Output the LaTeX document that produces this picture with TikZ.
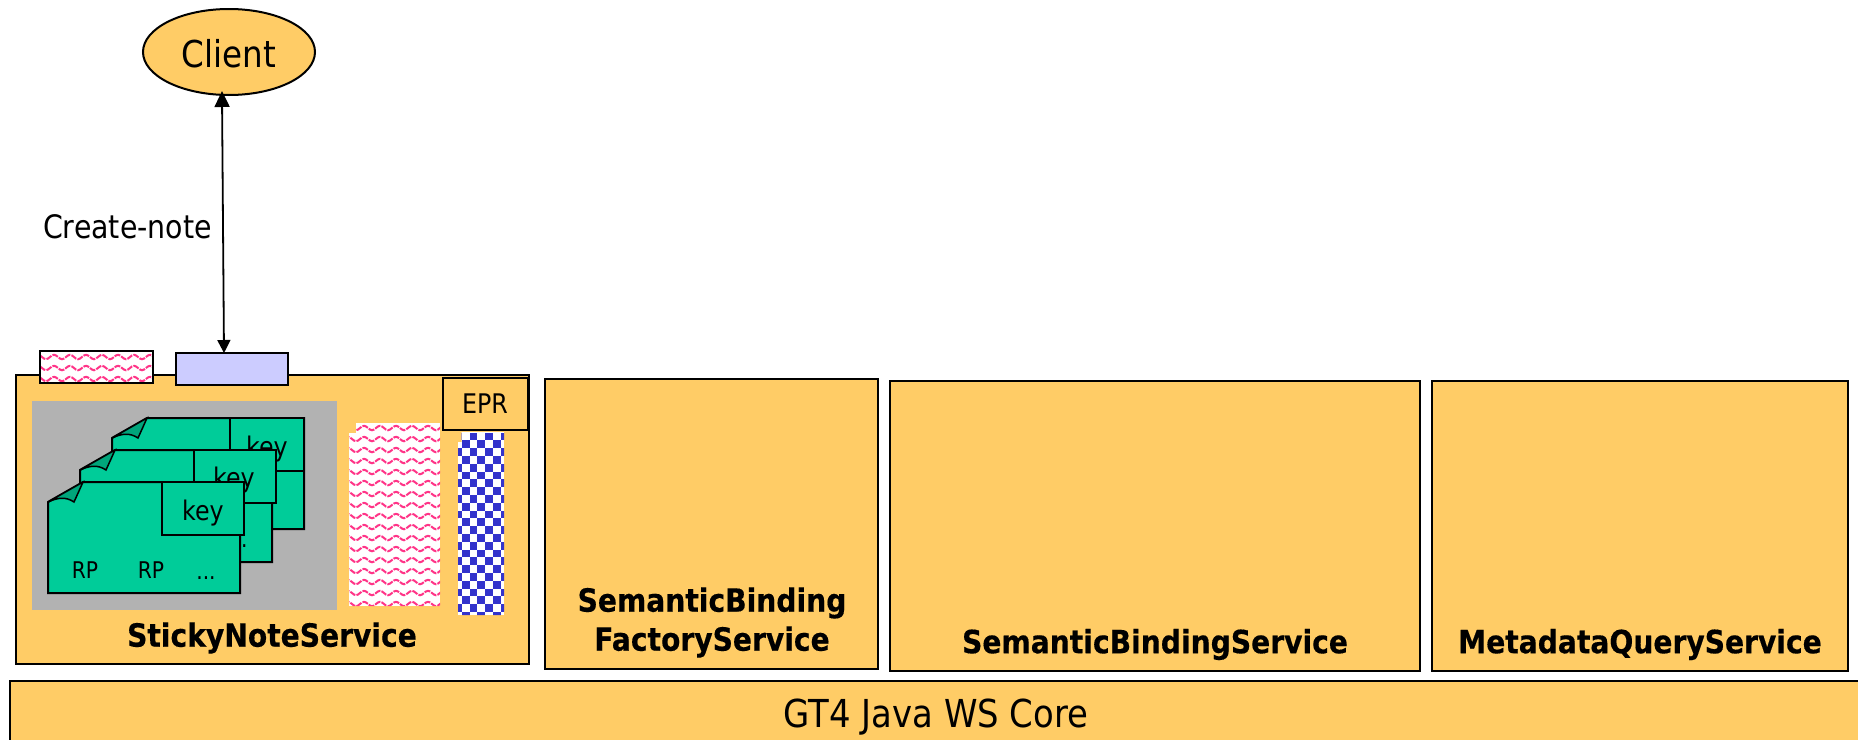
\documentclass[tikz,border=0pt]{standalone}
\usepackage{fontspec}
\setmainfont[FakeStretch=0.88,BoldFeatures={FakeBold=0.4}]{DejaVu Sans}
\usetikzlibrary{arrows.meta,shapes.geometric}
\definecolor{boxfill}{RGB}{255,204,102}
\definecolor{notefill}{RGB}{0,204,153}
\definecolor{foldfill}{RGB}{0,165,123}
\definecolor{greyfill}{RGB}{178,178,178}
\definecolor{lavfill}{RGB}{204,204,255}
\definecolor{wavepink}{RGB}{255,51,135}
\definecolor{checkblue}{RGB}{51,51,204}
\newcommand{\fs}[1]{\fontsize{#1}{#1}\selectfont}
\tikzset{
  x=1pt,y=-1pt,
  ln/.style={draw=black,line width=2pt},
  box/.style={ln,fill=boxfill,rectangle,inner sep=0pt,outer sep=0pt},
  txt/.style={inner sep=0pt,outer sep=0pt,text=black},
  btxt/.style={txt,font=\fs{32}\bfseries},
  keytxt/.style={txt,font=\fs{27}},
  rptxt/.style={txt,font=\fs{23}},
  notebody/.style={ln,fill=notefill,line join=miter},
  foldpart/.style={draw=black,line width=1.5pt,fill=foldfill},
  keybox/.style={ln,fill=notefill,rectangle,inner sep=0pt,outer sep=0pt},
  wave/.style={draw=wavepink,line width=2pt,dash pattern=on 6pt off 1.2pt},
}
\newcommand{\stickynote}[4]{% left top right bottom
  \draw[notebody] (#1,#2+20) -- (#1+35,#2) -- (#3,#2) -- (#3,#4) -- (#1,#4) -- cycle;
  \draw[foldpart] (#1,#2+20) -- (#1+35,#2) .. controls (#1+31,#2+9) .. (#1+26,#2+20) .. controls (#1+17,#2+14) and (#1+9,#2+16) .. cycle;
}
\begin{document}
\begin{tikzpicture}
\useasboundingbox (0,0) rectangle (1858,739);
\fill[white] (0,0) rectangle (1858,739);

% base layer
\node[box,minimum width=1880pt,minimum height=80pt] (core) at (950,721) {};
\node[txt,font=\fs{38.5}] (coretxt) at (936,717) {GT4 Java WS Core};

% service boxes
\node[box,minimum width=512.5pt,minimum height=289pt] (sticky) at (272.25,519) {};
\node[box,minimum width=333pt,minimum height=290pt] (factory) at (711.5,524) {};
\node[box,minimum width=530pt,minimum height=290pt] (semantic) at (1155,525.5) {};
\node[box,minimum width=416pt,minimum height=290pt] (metadata) at (1640,525.5) {};

\node[btxt] (stickytxt) at (272,638) {StickyNoteService};
\node[btxt,align=center] (factorytxt) at (712,622.5) {SemanticBinding\\[7pt]FactoryService};
\node[btxt] (semantictxt) at (1155,644.5) {SemanticBindingService};
\node[btxt] (metadatatxt) at (1640,644.5) {MetadataQueryService};

% small port boxes
\begin{scope}
  \clip (40,351) rectangle (152.5,383);
  \fill[white] (40,351) rectangle (152.5,383);
  \foreach \yy in {357,368,379}{%
    \draw[wave] (34,\yy) foreach \k in {0,...,8}{ sin ++(4,-2.2) cos ++(4,2.2) sin ++(4,2.2) cos ++(4,-2.2) };
  }
\end{scope}
\node[ln,rectangle,inner sep=0pt,outer sep=0pt,minimum width=112.5pt,minimum height=32pt] (pinkport) at (96.25,367) {};
\node[ln,fill=lavfill,rectangle,inner sep=0pt,outer sep=0pt,minimum width=112.5pt,minimum height=32pt] (lavport) at (232,369) {};

% EPR
\node[box,minimum width=85.5pt,minimum height=52pt] (epr) at (485.25,403.5) {};
\node[txt,font=\fs{27}] (eprtxt) at (485,403.5) {EPR};

% grey panel
\node[fill=greyfill,rectangle,inner sep=0pt,outer sep=0pt,minimum width=305pt,minimum height=209pt] (panel) at (184.5,505) {};

% pink resource column
\begin{scope}
  \clip (356,423) -- (440,423) -- (440,606) -- (349,606) -- (349,433) -- (356,433) -- cycle;
  \fill[white] (349,423) rectangle (440,606);
  \foreach \yy in {428,439,...,606}{%
    \draw[wave] (344,\yy) foreach \k in {0,...,6}{ sin ++(4,-2.2) cos ++(4,2.2) sin ++(4,2.2) cos ++(4,-2.2) };
  }
\end{scope}

% blue checker column
\begin{scope}
  \clip (461.5,432) -- (504,432) -- (504,615) -- (458,615) -- (458,442) -- (461.5,442) -- cycle;
  \fill[white] (458,432) rectangle (504,615);
  \foreach \r in {0,...,23}{%
    \foreach \q in {0,...,6}{%
      \pgfmathtruncatemacro{\oddeven}{mod(\r+\q,2)}%
      \ifnum\oddeven=0
        \fill[checkblue] (454+\q*7.8,432.5+\r*7.8) rectangle ++(7.8,7.8);
      \fi
    }%
  }
\end{scope}

% back sheet
\stickynote{112}{418}{304}{529}
\node[keybox,minimum width=74pt,minimum height=53pt] (keyc) at (267,444.5) {};
\node[keytxt] (keyctxt) at (267,449) {key};

% middle sheet
\stickynote{80}{450}{272}{562}
\node[rptxt] (dotsb) at (238,546) {...};
\node[keybox,minimum width=82pt,minimum height=53pt] (keyb) at (235,476.5) {};
\node[keytxt] (keybtxt) at (234,480) {key};

% front sheet
\stickynote{48}{482}{240}{593}
\node[rptxt] (rpa) at (85,570) {RP};
\node[rptxt] (rpb) at (151,570) {RP};
\node[rptxt] (dotsa) at (206,578) {...};
\node[keybox,minimum width=82pt,minimum height=53pt] (keya) at (203,508.5) {};
\node[keytxt] (keyatxt) at (203,513) {key};

% client
\node[ellipse,ln,fill=boxfill,inner sep=0pt,outer sep=0pt,minimum width=172pt,minimum height=86pt] (client) at (229,52) {};
\node[txt,font=\fs{37}] (clienttxt) at (229,53.5) {Client};

% create-note connector
\draw[line width=1.8pt,{Triangle[length=16pt,width=15pt]}-{Triangle[length=13pt,width=13pt]},shorten <=-4pt]
  ([xshift=-7pt]client.south) -- ([xshift=-8pt]lavport.north);
\node[txt,font=\fs{32.3}] (createnote) at (127.5,227) {Create-note};
\end{tikzpicture}
\end{document}
